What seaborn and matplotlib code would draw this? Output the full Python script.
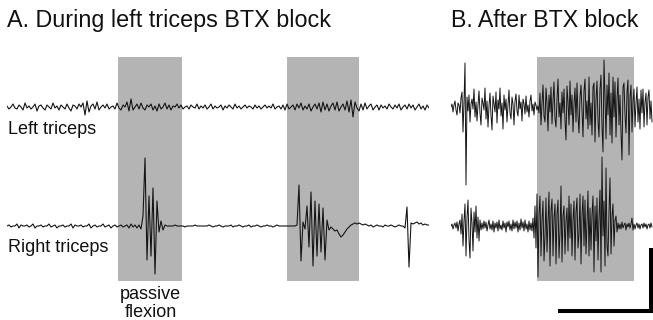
import numpy as np
import pandas as pd
import matplotlib
matplotlib.use("Agg")
import matplotlib.pyplot as plt
import seaborn as sns

sns.set_theme(style="white")
plt.rcParams['font.family'] = ['Liberation Sans', 'DejaVu Sans']

# ---------------- data (EMG amplitude, arbitrary units) ----------------
DT_A = 0.05    # s per sample, panel A
DT_B = 0.025   # s per sample, panel B
LEFT_OFFSET = 0
RIGHT_OFFSET = -119

A_left = [1, -2, 0, 3, -1, -2, 2, 0, -3, 4, -1, 1, -2, 0, 3, -4, 1, 2, -1, -3,
          2, 0, -2, 4, -1, 1, -3, 2, 0, -2, 3, -1, -4, 2, 1, -2, 3, 0, 4, -8,
          6, -5, 1, 3, -2, 5, -3, 0, 2, -1, 3, -2, 0, 1, -2, 4, -1, -3, 2, 0,
          5, -4, 8, -3, 0, 3, -2, 4, -1, -3, 2, 0, 3, -3, 1, -4, 3, -2, 0, 4,
          -2, 2, -3, 1, 0, 3, -1, 2, -2, 0, 1, -2, 2, 0, -1, 3, -2, 1, -1, 2,
          -2, 0, 3, -2, 1, -1, 0, 2, -3, 1, -1, 2, 0, -2, 3, -1, 1, -2, 0, 2,
          -1, 1, 0, -2, 2, -1, 1, -2, 0, 2, -1, 1, -1, 3, -2, 0, 1, -2, 2, -3,
          3, -2, 0, 2, -3, 3, -1, 4, -3, 1, -2, 3, -4, 0, 3, -2, 4, -5, 5, -3,
          3, -4, 1, 4, -3, 5, -4, 0, 3, -3, 6, -5, 7, -10, 5, -1, -4, 3, -3, 4,
          -2, 1, 3, -3, 0, 2, -3, 2, -1, 1, -2, 3, 0, -2, 2, -1, 3, -3, 0, 2,
          -2, 3, -1, 2, -3, 0, 3, -2, 1, -3, 2, -1]

A_right = [0, 1, -1, 0, 0, 2, -2, 1, 0, 0, 1, -1, 0, 2, -2, 0, 0, 1, -1, 0,
           0, 2, -1, 0, 1, -2, 0, 0, 1, -1, 0, 0, 2, -2, 1, 0, 0, 1, -1, 0,
           0, 2, -2, 0, 1, -1, 0, 0, 2, -1, 0, 1, -2, 0, 1, -1, 0, 1, -1, 0,
           1, -2, 2, -1, 1, -2, 1, -3, 10, 68, -34, 30, -30, 38, -48, 25, -6, 5, -4, 1,
           0, 0, 0, 0, 1, 0, 0, 0, 0, -1, 0, 0, 0, 0, 1, 0, 0, 0, 0, 0,
           0, 1, 0, -1, 0, 0, 1, 0, -1, 0, 0, 0, 1, -1, 0, 0, 1, 0, -1, 0,
           0, 1, -1, 0, 0, 1, 0, -1, 0, 0, 1, 0, 0, -1, 0, 1, 0, 0, 0, 0,
           0, 0, 0, 0, 0, 1, 41, -35, 4, -3, 20, -21, 34, -40, 25, -30, 22, -26, 18, -34,
           6, -4, -1, -3, -5, -4, -8, -11, -9, -6, -3, -1, 1, 2, 3, 2, 3, 2, 1, 2,
           1, 0, 1, -1, 0, 1, 0, 0, -1, 1, 0, 0, 1, 0, -1, 0, 1, 0, 0, -2,
           19, -41, 3, 2, 3, 4, 2, 3, 1, 2, 1, 1]

B_top = [0, 3, -5, 2, 6, -3, -8, 4, 2, -6, 9,
         15, -25, 5, 44, -78, 10,
         -4, 12, -15, 3, 8, -2, 18, -10, 5, -14, 2, 16, -6, -18, 9, 4, -3, 19, -12, 6,
         -20, 1, 14, -8, -23, 11, 3, -5, 15, -16, 7, -2, 19, -9, 4, -22, 12, -3, 8, -15,
         2, 17, -6, -12, 10, 3, -18, 6, 13, -4, -9, 12, -2, 5, -14, 8, 3, -7, 11, -5,
         2, -10, 6, 12, -4, 3, -8, 5,
         2, -3, 1,
         -6, 14, -18, 4, 22, -9, -15, 19, 3, -24, 12, -5, 20, -17, 6, 25, -12, -20, 8, 28,
         -10, 4, -22, 15, -6, 18, -14, -33, 21, 5, -18, 26, -8, 12, -25, 3, 19, -15, 24, -9,
         -26, 10, 22, -5, -30, 16, 28, -12, 6, -22, 30, -18, 4, -28, 20, 24, -35, 8, 26, -14,
         -30, 18, 32, -20, -45, 47, 10, -32, 22, -8, 34, -28, 14, -36, 30, -10, 25, -30, 8, 29,
         -18, 12, -26, -53, 20, 24, -8, -26, 15, 27, -48, 10, 22, -25, 6, 18, -20, 4, 20, -15,
         8, -22, 17, -6, 18, -20, 5, 14, -18, 10, 17, -12, 6, -15]

B_bottom = [0, 2, -3, 1, 3, -2, 4, -5, 2, 6, -8,
            12, -20, 5, 22, -30, 8, 26, -14, -32, 18, 3, -25, 14, -6, 20, -12, 9, -15, 6, -4, 3,
            -3, 5, -2, 4, -5, 1, 6, -3, 2, -4, 5, -6, 3, -2, 4, -5, 6, -3, 1, -4,
            5, -2, 3, -6, 4, -1, 5, -4, 2, -5, 6, -3, 4, -2, 5, -6, 3, -4, 7, -2,
            4, -5, 6, -3, 2, -6, 5, -4, 3, -5,
            8, -12, 20, -22, 32, -51, 12, 30, -30, 6, 25, -35, -10, 28, -26, 4, 34, -40, 15, 27,
            -30, 8, 22, -38, 12, 26, -32, -6, 40, -36, 10, 20, -28, 5, 18, -25, 30, -12, 22, -30,
            6, 25, -34, 14, 28, -22, -8, 32, -38, 10, 30, -20, 26, -28, 4, 35, -30, 18, -24, 12,
            30, -46, 20, -15, 28, -34, 8, 36, -46, 69, -10, 25, -40, 58, -20, -30, 14, 48, -28, 10,
            22, -20, 6, 10, -6, 3,
            -3, 2, -3, 4, -2, 1, 3, -4, 2, -1, 3, -2, 2, 8, -4, 2, -3, 1, 3, -2,
            2, -3, 1, 2, -2, 3, -1, 2, -3, 1, 2, -2, 3, -1]

A_flexion = [(2.775, 4.375), (7.0, 8.8)]   # s
B_flexion = [(2.15, 4.575)]                # s
FLEX_TOP, FLEX_BOTTOM = 50, -174
SCALE_T0, SCALE_T1 = 2.675, 5.0            # horizontal scale bar (s)
SCALE_V0, SCALE_V1 = -204, -141            # vertical scale bar

titles = ["A. During left triceps BTX block", "B. After BTX block"]
trace_labels = ["Left triceps", "Right triceps"]
flex_label = ["passive", "flexion"]

# ---------------- figure ----------------
W, H = 653, 320
fig = plt.figure(figsize=(W / 100, H / 100), dpi=100)
fig.patch.set_facecolor("white")


def make_df(left, right, dt):
    t1 = np.arange(len(left)) * dt
    t2 = np.arange(len(right)) * dt
    return pd.DataFrame({
        "t": np.concatenate([t1, t2]),
        "v": np.concatenate([np.array(left) + LEFT_OFFSET, np.array(right) + RIGHT_OFFSET]),
        "trace": ["left"] * len(left) + ["right"] * len(right),
    })


gray = "#b4b4b4"
trace_color = "#151515"

axA = fig.add_axes([7 / W, 0, 422 / W, 1])
axB = fig.add_axes([451 / W, 0, 202 / W, 1])

for ax, flex, left, right, dt, xmax, lw in [(axA, A_flexion, A_left, A_right, DT_A, 10.55, 0.8),
                                             (axB, B_flexion, B_top, B_bottom, DT_B, 5.05, 0.7)]:
    for (t0, t1) in flex:
        ax.fill_between([t0, t1], FLEX_BOTTOM, FLEX_TOP, color=gray, lw=0, zorder=0)
    df = make_df(left, right, dt)
    sns.lineplot(data=df, x="t", y="v", units="trace", estimator=None, sort=False,
                 color=trace_color, lw=lw, ax=ax, legend=False, zorder=2)
    ax.set_xlim(0, xmax)
    ax.set_ylim(-213, 107)
    ax.set_axis_off()

axB.plot([SCALE_T0, SCALE_T1, SCALE_T1], [SCALE_V0, SCALE_V0, SCALE_V1],
         color="black", lw=2.9, solid_joinstyle="miter", solid_capstyle="butt",
         clip_on=False, zorder=3)


def px(x, y):
    return x / W, 1 - y / H


fig.text(*px(7, 27), titles[0], fontsize=16.8, va="baseline", ha="left", color="#111111")
fig.text(*px(451, 27), titles[1], fontsize=16.7, va="baseline", ha="left", color="#111111")
fig.text(*px(8, 134), trace_labels[0], fontsize=13, va="baseline", ha="left", color="#111111")
fig.text(*px(8, 252), trace_labels[1], fontsize=13, va="baseline", ha="left", color="#111111")
fig.text(*px(150.5, 299), flex_label[0], fontsize=13, va="baseline", ha="center", color="#111111")
fig.text(*px(150.5, 317), flex_label[1], fontsize=13, va="baseline", ha="center", color="#111111")

fig.savefig("out.png", dpi=100)
